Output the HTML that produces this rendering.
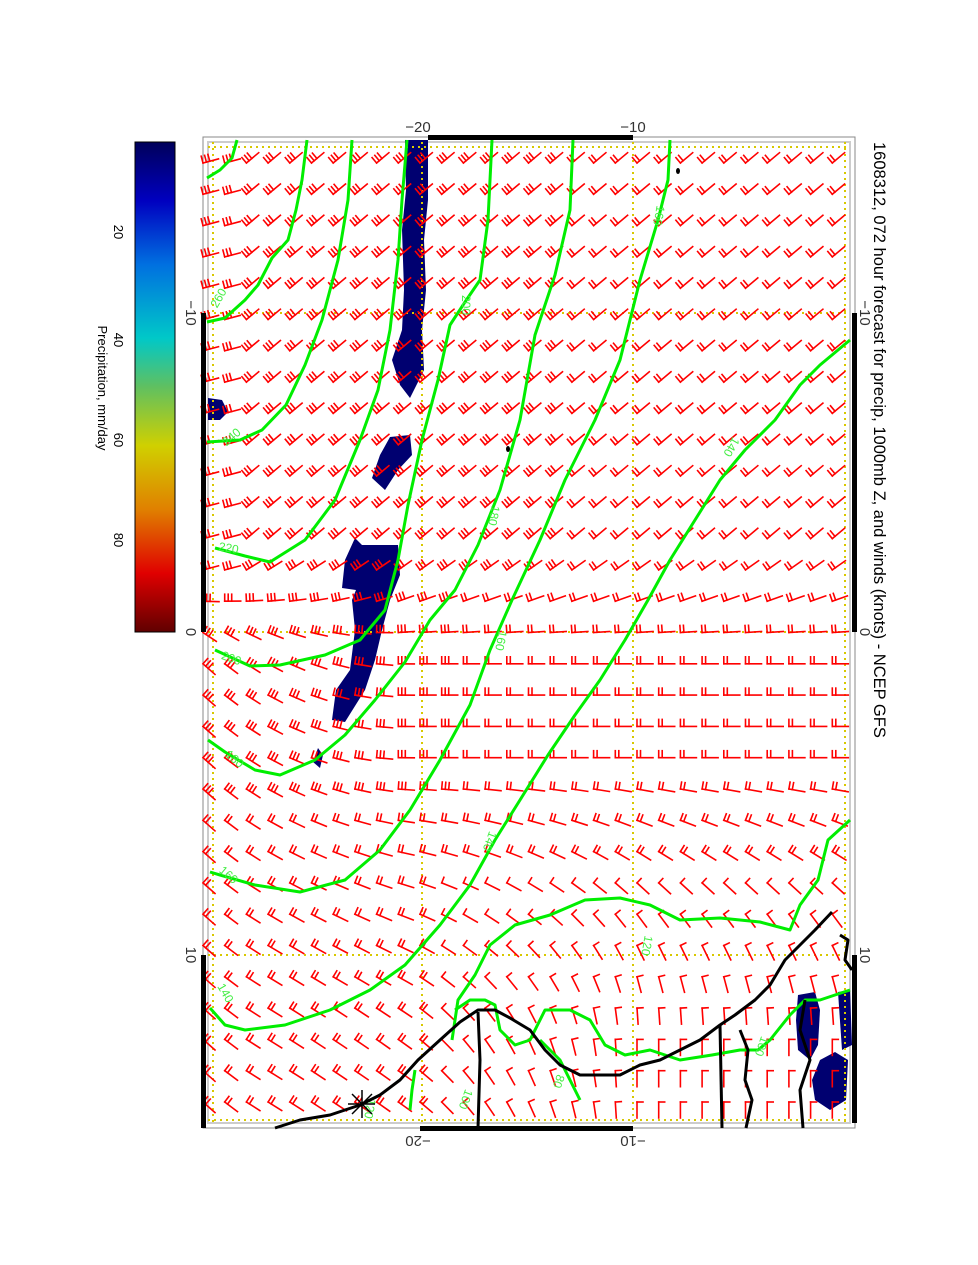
<!DOCTYPE html>
<html><head><meta charset="utf-8"><style>
html,body{margin:0;padding:0;background:#fff}
svg{display:block}
text{font-family:"Liberation Sans",sans-serif}
</style></head><body>
<svg id="s" width="978" height="1265" viewBox="0 0 978 1265" xmlns="http://www.w3.org/2000/svg">
<defs>
<linearGradient id="cb" x1="0" y1="0" x2="0" y2="1">
<stop offset="0" stop-color="#00005a"/>
<stop offset="0.12" stop-color="#0000c0"/>
<stop offset="0.25" stop-color="#0070e0"/>
<stop offset="0.4" stop-color="#00c8c8"/>
<stop offset="0.5" stop-color="#60c060"/>
<stop offset="0.62" stop-color="#d0d000"/>
<stop offset="0.75" stop-color="#e08000"/>
<stop offset="0.88" stop-color="#e00000"/>
<stop offset="1" stop-color="#600000"/>
</linearGradient>
</defs>
<rect x="135" y="142" width="40" height="490" fill="url(#cb)" stroke="#000" stroke-width="1"/>
<g font-size="13" fill="#000">
<text transform="translate(114,232) rotate(90)" text-anchor="middle">20</text>
<text transform="translate(114,340) rotate(90)" text-anchor="middle">40</text>
<text transform="translate(114,440) rotate(90)" text-anchor="middle">60</text>
<text transform="translate(114,540) rotate(90)" text-anchor="middle">80</text>
<text transform="translate(98,388) rotate(90)" text-anchor="middle">Precipitation, mm/day</text>
</g>
<text transform="translate(874,142) rotate(90)" font-size="16.5" fill="#000">1608312, 072 hour forecast for precip, 1000mb Z, and winds (knots) - NCEP GFS</text>
<rect x="203" y="137" width="652" height="991" fill="#fff" stroke="#888" stroke-width="1"/>
<rect x="208" y="142" width="642" height="981" fill="none" stroke="#ccc" stroke-width="2"/>
<g fill="#000070">
<path d="M405,140 L428,140 L428,200 L424,240 L426,290 L422,330 L424,370 L410,398 L400,385 L392,360 L402,330 L404,290 L402,230 L406,190 Z"/>
<path d="M390,437 L410,435 L412,455 L398,470 L385,490 L372,478 L380,455 Z"/>
<path d="M355,538 L362,545 L370,545 L398,545 L400,575 L390,600 L382,630 L375,660 L365,690 L345,722 L332,720 L336,690 L350,670 L355,630 L352,600 L356,590 L342,588 L345,560 Z"/>
<path d="M318,748 L323,755 L320,768 L313,762 Z"/>
<path d="M208,398 L222,400 L228,412 L220,420 L208,420 Z"/>
<path d="M798,995 L815,992 L820,1010 L818,1045 L810,1060 L798,1050 L796,1020 Z"/>
<path d="M838,992 L850,990 L852,1045 L842,1050 Z"/>
<path d="M820,1060 L835,1052 L848,1060 L846,1100 L830,1110 L815,1100 L812,1080 Z"/>
</g>
<g stroke="#d8c800" stroke-width="2" stroke-dasharray="2,4" fill="none">
<line x1="213" y1="142" x2="213" y2="1123"/>
<line x1="422" y1="142" x2="422" y2="1123"/>
<line x1="633" y1="142" x2="633" y2="1123"/>
<line x1="845" y1="142" x2="845" y2="1123"/>
<line x1="208" y1="147" x2="850" y2="147"/>
<line x1="208" y1="313" x2="850" y2="313"/>
<line x1="208" y1="632" x2="850" y2="632"/>
<line x1="208" y1="955" x2="850" y2="955"/>
<line x1="208" y1="1120" x2="850" y2="1120"/>
</g>
<g id="barbs" stroke="#ff0000" stroke-width="1.6" fill="none" stroke-linecap="square"></g>
<g stroke="#00ee00" stroke-width="3" fill="none" stroke-linejoin="round">
<polyline points="237,140 232,158 220,170 207,178"/>
<polyline points="307,140 302,180 296,210 288,240 272,258 258,285 245,300 225,318 207,322"/>
<polyline points="352,140 348,200 338,260 322,320 305,365 286,405 262,430 240,440 207,442"/>
<polyline points="407,140 402,200 398,260 390,330 378,390 360,440 335,500 305,540 270,562 245,556 215,548"/>
<polyline points="492,140 488,220 480,280 465,302 450,325 438,380 422,440 408,505 398,560 385,610 360,640 325,655 280,665 250,666 215,650"/>
<polyline points="573,140 570,210 555,275 535,335 520,420 500,490 478,545 455,590 430,620 405,662 375,700 345,735 315,760 280,775 255,770 225,752 208,740"/>
<polyline points="670,140 668,180 658,220 640,280 620,360 595,420 565,480 540,540 512,600 490,650 470,705 440,760 410,810 380,850 345,880 300,892 255,885 220,875 210,872"/>
<polyline points="850,340 820,365 800,385 775,420 745,450 720,480 695,520 670,560 648,600 625,640 600,680 575,715 548,755 520,800 495,840 470,885 440,925 405,965 370,990 330,1010 285,1025 245,1030 225,1025 210,1008"/>
<polyline points="850,820 828,840 818,880 800,905 790,930 760,922 720,918 680,920 650,905 620,898 585,900 550,915 515,925 490,945 475,975 458,1000 452,1040"/>
<polyline points="850,990 820,1000 805,1000 790,1015 770,1040 758,1050 740,1050 712,1055 680,1060 650,1050 625,1055 605,1045 590,1020 570,1010 545,1010 530,1040 515,1045 500,1030 495,1005 485,1000 470,1000 455,1010"/>
<polyline points="540,1040 560,1060 575,1090 580,1100"/>
<polyline points="415,1070 412,1090 410,1110"/>
</g>
<g fill="#44ee44" font-size="12">
<text transform="translate(222,300) rotate(-60)" text-anchor="middle">260</text>
<text transform="translate(234,440) rotate(-40)" text-anchor="middle">240</text>
<text transform="translate(228,552) rotate(10)" text-anchor="middle">220</text>
<text transform="translate(230,662) rotate(20)" text-anchor="middle">200</text>
<text transform="translate(232,762) rotate(40)" text-anchor="middle">180</text>
<text transform="translate(226,878) rotate(40)" text-anchor="middle">160</text>
<text transform="translate(222,995) rotate(60)" text-anchor="middle">140</text>
<text transform="translate(462,305) rotate(90)" text-anchor="middle">200</text>
<text transform="translate(490,515) rotate(100)" text-anchor="middle">180</text>
<text transform="translate(497,640) rotate(100)" text-anchor="middle">160</text>
<text transform="translate(486,840) rotate(110)" text-anchor="middle">140</text>
<text transform="translate(655,215) rotate(100)" text-anchor="middle">160</text>
<text transform="translate(728,445) rotate(120)" text-anchor="middle">140</text>
<text transform="translate(643,945) rotate(100)" text-anchor="middle">120</text>
<text transform="translate(758,1045) rotate(110)" text-anchor="middle">100</text>
<text transform="translate(555,1080) rotate(110)" text-anchor="middle">80</text>
<text transform="translate(462,1098) rotate(110)" text-anchor="middle">100</text>
<text transform="translate(366,1108) rotate(100)" text-anchor="middle">120</text>
</g>
<g stroke="#000" stroke-width="3" fill="none" stroke-linejoin="round">
<polyline points="832,912 815,930 800,945 785,960 770,985 755,1000 735,1015 720,1025 700,1040 680,1050 660,1060 640,1065 620,1075 600,1075 580,1075 560,1065 545,1050 530,1030 510,1018 495,1010 478,1010 460,1022 440,1040 418,1060 400,1080 380,1095 360,1105 330,1115 300,1120 275,1128"/>
<polyline points="720,1025 722,1128"/>
<polyline points="478,1012 480,1060 478,1128"/>
<polyline points="740,1030 748,1050 745,1080 752,1100 746,1128"/>
<polyline points="805,1000 800,1030 810,1060 800,1090 803,1128"/>
<polyline points="840,935 848,940 845,960 852,970"/>
</g>
<g stroke="#000" stroke-width="1.5">
<line x1="348" y1="1104" x2="375" y2="1104"/><line x1="362" y1="1090" x2="362" y2="1118"/>
<line x1="352" y1="1094" x2="372" y2="1114"/><line x1="352" y1="1114" x2="372" y2="1094"/>
</g>
<ellipse cx="678" cy="171" rx="2" ry="3" fill="#000"/>
<ellipse cx="508" cy="449" rx="2" ry="3" fill="#000"/>
<g fill="#000">
<rect x="428" y="135" width="205" height="5"/>
<rect x="420" y="1126" width="213" height="5"/>
<rect x="201" y="313" width="5" height="319"/>
<rect x="201" y="955" width="5" height="173"/>
<rect x="852" y="313" width="5" height="319"/>
<rect x="852" y="955" width="5" height="168"/>
</g>
<g font-size="15" fill="#333">
<text x="418" y="132" text-anchor="middle">−20</text>
<text x="633" y="132" text-anchor="middle">−10</text>
<text transform="translate(418,1136) rotate(180)" text-anchor="middle">−20</text>
<text transform="translate(633,1136) rotate(180)" text-anchor="middle">−10</text>
<text transform="translate(186,313) rotate(90)" text-anchor="middle">−10</text>
<text transform="translate(186,632) rotate(90)" text-anchor="middle">0</text>
<text transform="translate(186,955) rotate(90)" text-anchor="middle">10</text>
<text transform="translate(860,313) rotate(90)" text-anchor="middle">−10</text>
<text transform="translate(860,632) rotate(90)" text-anchor="middle">0</text>
<text transform="translate(860,955) rotate(90)" text-anchor="middle">10</text>
</g>
</svg>
<script>
(function(){
var g=document.getElementById('barbs'),out='';
function cl(v){return v<0?0:v>1?1:v;}
for(var i=0;i<31;i++){for(var j=0;j<30;j++){
 var x=203+j*21.7, y=163+i*31.3;
 var lower=(Math.max(0,(400-x)/190)*40)+cl((y-760)/260)*cl((x-250)/380)*90;
 var t=cl((y-560)/80);
 var a=-40*(1-t)+lower*t;
 if(y<600 && x<240) a=-15;
 var n=3;
 if(x>560&&y<650) n=2;
 if(y>=600&&x>450) n=2;
 if(y>820) n=2;
 if(y>880&&x>420) n=1;
 var r=a*Math.PI/180, L=16, F=7;
 var dx=Math.cos(r), dy=Math.sin(r);
 var px=Math.cos(r-Math.PI/2), py=Math.sin(r-Math.PI/2);
 out+='<line x1="'+x.toFixed(1)+'" y1="'+y.toFixed(1)+'" x2="'+(x+dx*L).toFixed(1)+'" y2="'+(y+dy*L).toFixed(1)+'"/>';
 for(var k=0;k<n;k++){
  var bx=x+dx*k*3.5, by=y+dy*k*3.5, f=(n==1)?6:F;
  out+='<line x1="'+bx.toFixed(1)+'" y1="'+by.toFixed(1)+'" x2="'+(bx+px*f).toFixed(1)+'" y2="'+(by+py*f).toFixed(1)+'"/>';
 }
}}
g.innerHTML=out;
})();
</script>
</body></html>
